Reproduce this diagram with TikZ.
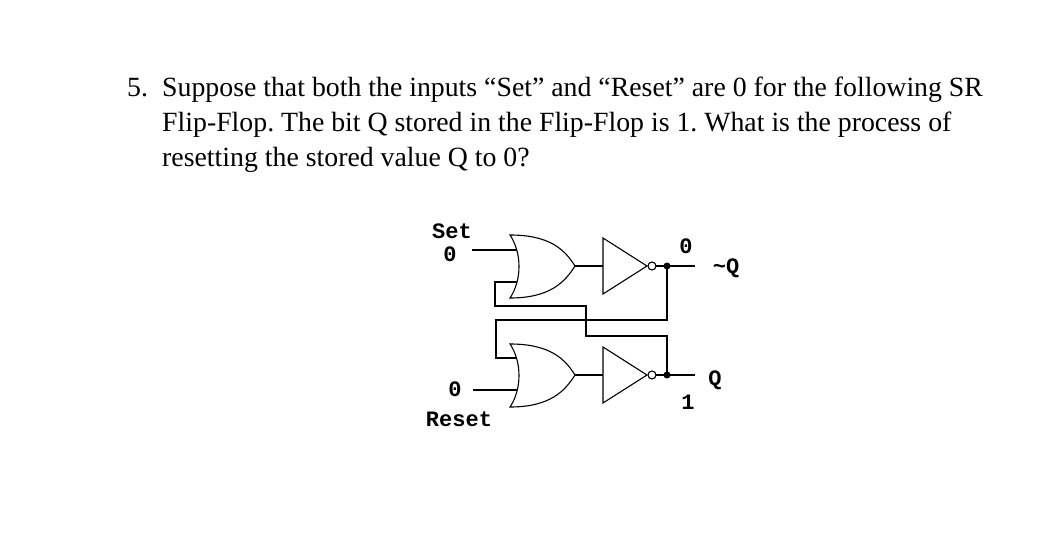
\documentclass[tikz,border=0pt]{standalone}
\usepackage{fontspec}
\setmainfont{Liberation Serif}
\setmonofont{Liberation Mono}
\begin{document}
\frenchspacing
\begin{tikzpicture}[x=1pt,y=-1pt,
  wire/.style={line width=1.1pt},
  lbl/.style={font=\ttfamily\bfseries\fontsize{22}{22}\selectfont,inner sep=0},
  q/.style={font=\fontsize{27.8}{27.8}\selectfont,anchor=base west,inner sep=0}]
\useasboundingbox (0,0) rectangle (1053,540);
\node[q] (n5) at (127,97) {5.};
\node[q] (l1) at (162,97) {Suppose that both the inputs “Set” and “Reset” are 0 for the following SR};
\node[q] (l2) at (162,132) {Flip-Flop. The bit Q stored in the Flip-Flop is 1. What is the process of};
\node[q] (l3) at (162,167) {resetting the stored value Q to 0?};
% OR gates
\foreach \n/\y in {ta/266,ba/375}{
  \draw[wire] (510,\y-31) .. controls (550,\y-31) and (565,\y-16) .. (575,\y)
    .. controls (565,\y+16) and (550,\y+32) .. (510,\y+32)
    .. controls (522,\y+14) and (522,\y-13) .. cycle;
  \coordinate (\n) at (575,\y);
}
% inverters
\foreach \n/\y in {ti/266,bi/375}{
  \draw[wire] (603,\y-28) -- (647,\y) -- (603,\y+28) -- cycle;
  \draw[wire,fill=white] (652,\y) circle (4);
  \coordinate (\n) at (603,\y);
  \coordinate (\n o) at (656,\y);
}
\coordinate (tdot) at (667,266);
\coordinate (bdot) at (667,375);
\fill (tdot) circle (3.5);
\fill (bdot) circle (3.5);
\draw[wire] (ta) -- (ti);
\draw[wire] (ba) -- (bi);
\draw[wire] (tio) -- (695,266);
\draw[wire] (bio) -- (695,375);
\draw[wire] (472,250) -- (517,250);
\draw[wire] (473,390) -- (517,390);
\draw[wire] (517,282) -- (495,282) -- (495,306) -- (586,306) -- (586,336) -- (667,336) -- (bdot);
\draw[wire] (tdot) -- (667,320) -- (496,320) -- (496,358) -- (517,358);
\node[lbl] (set) at (452,231) {Set};
\node[lbl] (s0) at (450,254) {0};
\node[lbl] (t0) at (686,246) {0};
\node[lbl] (nq) at (726,268) {\textasciitilde Q};
\node[lbl] (qq) at (715,380) {Q};
\node[lbl] (b1) at (688,402) {1};
\node[lbl] (r0) at (455,389) {0};
\node[lbl] (rs) at (459,419) {Reset};
\end{tikzpicture}
\end{document}
